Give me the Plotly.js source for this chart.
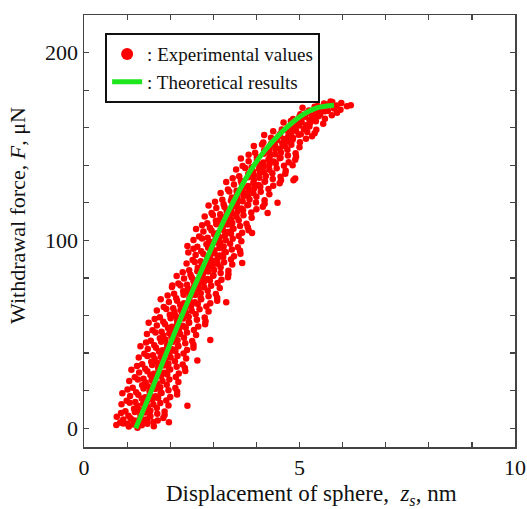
<!DOCTYPE html>
<html>
<head>
<meta charset="utf-8">
<script src="https://cdn.plot.ly/plotly-3.0.1.min.js"></script>
<style>html,body{margin:0;padding:0;background:#fff;}#chart{width:527px;height:509px;}</style>
</head>
<body>
<div id="chart"></div>
<script>
// Experimental values, read band by band (bottom to top) from the picture
const expX = [
  0.75,0.91,1.04,1.15,1.24,1.34,1.47,1.62,
  0.84,1.01,1.14,1.24,1.34,1.46,1.61,
  0.76,0.91,1.08,1.21,1.31,1.41,1.53,1.71,1.84,
  0.86,1.03,1.18,1.31,1.42,1.54,1.70,1.87,
  0.96,1.16,1.28,1.41,1.54,1.69,1.87,2.40,1.97,
  0.87,1.06,1.24,1.37,1.48,1.61,1.77,1.96,
  0.99,1.19,1.34,1.46,1.59,1.72,1.91,
  0.89,1.07,1.26,1.42,1.53,1.66,1.80,2.00,2.16,
  1.01,1.21,1.38,1.52,1.65,1.78,1.96,2.16,
  1.13,1.35,1.48,1.62,1.77,1.92,2.12,
  1.05,1.25,1.43,1.57,1.69,1.82,1.98,2.19,
  1.18,1.38,1.54,1.66,1.79,1.93,2.13,
  1.10,1.28,1.47,1.62,1.73,1.86,2.00,2.20,2.35,
  1.23,1.42,1.58,1.72,1.85,1.97,2.15,2.34,
  1.35,1.56,1.69,1.82,1.96,2.11,2.29,
  1.27,1.47,1.64,1.78,1.89,2.01,2.17,2.37,2.63,
  1.40,1.60,1.74,1.87,1.99,2.12,2.31,
  1.31,1.48,1.67,1.82,1.93,2.05,2.19,2.39,2.54,
  1.44,1.63,1.79,1.93,2.05,2.18,2.35,2.54,2.93,
  1.55,1.76,1.89,2.03,2.17,2.32,2.51,
  1.46,1.66,1.84,1.98,2.10,2.23,2.39,2.60,
  1.59,1.80,1.95,2.08,2.21,2.36,2.55,
  1.50,1.69,1.88,2.04,2.16,2.29,2.44,2.65,2.81,
  1.64,1.84,2.01,2.16,2.30,2.43,2.62,2.82,
  1.76,1.99,2.13,2.28,2.43,2.59,2.80,
  1.69,1.91,2.10,2.24,2.37,2.50,2.68,2.89,
  1.85,2.07,2.23,2.36,2.49,2.64,2.84,3.30,
  1.78,1.97,2.16,2.32,2.44,2.57,2.72,2.93,3.09,
  1.94,2.14,2.31,2.45,2.58,2.71,2.89,3.09,
  2.09,2.30,2.43,2.57,2.71,2.87,3.06,2.05,
  2.04,2.24,2.41,2.55,2.66,2.79,2.95,3.15,
  2.19,2.39,2.54,2.66,2.78,2.92,3.10,
  2.15,2.32,2.50,2.64,2.75,2.87,3.00,3.19,3.34,
  2.29,2.47,2.63,2.76,2.88,3.00,3.17,3.35,
  2.44,2.64,2.76,2.89,3.02,3.17,3.35,
  2.38,2.57,2.74,2.87,2.98,3.10,3.25,3.44,3.67,
  2.52,2.71,2.86,2.98,3.10,3.23,3.41,
  2.42,2.59,2.77,2.92,3.03,3.15,3.29,3.48,3.63,
  2.54,2.72,2.88,3.02,3.14,3.26,3.43,3.62,
  2.63,2.84,2.97,3.10,3.24,3.39,3.57,2.40,
  2.54,2.74,2.91,3.05,3.16,3.29,3.45,3.65,
  2.67,2.87,3.02,3.15,3.27,3.41,3.59,3.90,
  2.60,2.77,2.96,3.10,3.22,3.34,3.47,3.67,3.82,
  2.74,2.92,3.07,3.21,3.33,3.45,3.62,3.80,
  2.86,3.06,3.18,3.31,3.44,3.59,3.77,
  2.80,2.99,3.17,3.30,3.41,3.54,3.70,3.89,
  2.96,3.16,3.31,3.43,3.56,3.69,3.88,4.26,
  2.89,3.07,3.26,3.41,3.53,3.65,3.79,4.00,4.15,
  3.04,3.24,3.41,3.55,3.68,3.81,3.99,4.19,4.49,
  3.21,3.43,3.56,3.70,3.84,4.00,4.19,
  3.17,3.37,3.55,3.69,3.80,3.93,4.10,4.30,
  3.34,3.54,3.69,3.82,3.95,4.09,4.28,
  3.30,3.48,3.66,3.81,3.93,4.05,4.19,4.39,4.54,
  3.45,3.64,3.81,3.94,4.07,4.20,4.38,4.57,4.86,
  3.60,3.81,3.94,4.08,4.22,4.37,4.56,4.67,4.90,
  3.53,3.74,3.92,4.06,4.17,4.30,4.47,4.68,
  3.68,3.89,4.04,4.17,4.30,4.45,4.64,4.84,
  3.64,3.82,4.01,4.16,4.28,4.40,4.54,4.75,4.90,
  3.82,4.01,4.17,4.31,4.43,4.56,4.73,4.92,
  3.97,4.18,4.30,4.44,4.57,4.72,4.91,
  3.94,4.13,4.30,4.43,4.54,4.66,4.81,5.00,
  4.16,4.34,4.48,4.60,4.71,4.84,5.01,
  4.18,4.34,4.51,4.64,4.74,4.85,4.98,5.15,5.29,
  4.39,4.55,4.69,4.81,4.92,5.03,5.18,5.35,
  4.59,4.77,4.87,4.99,5.10,5.23,5.39,
  4.63,4.80,4.94,5.05,5.15,5.25,5.38,5.55,
  4.85,5.01,5.13,5.23,5.33,5.44,5.59,
  5.00,5.02,5.17,5.29,5.38,5.48,5.59,5.75,5.87,
  5.07,5.22,5.35,5.46,5.56,5.66,5.80,5.95,
  5.42,5.57,5.66,5.76,5.86,5.97,6.10,6.19,5.72
];
const expY = [
  1.7,2.5,0.9,2.0,0.3,1.6,2.4,1.1,
  3.1,2.4,4.3,2.7,3.8,4.6,3.3,
  6.1,4.7,5.3,4.0,5.6,4.5,6.2,4.1,5.4,
  8.1,6.7,8.6,7.2,8.4,6.5,7.7,7.0,
  9.1,10.4,9.8,11.2,9.3,10.7,8.9,12.0,3.2,
  12.7,13.5,11.9,13.0,11.3,12.6,13.4,12.1,
  14.6,13.9,15.8,14.2,15.3,16.1,14.8,
  18.6,17.2,17.8,16.5,18.1,17.0,18.7,16.6,17.9,
  20.6,19.2,21.1,19.7,20.9,19.0,20.2,19.5,
  21.6,22.9,22.3,23.7,21.8,23.2,21.4,
  25.2,26.0,24.4,25.5,23.8,25.1,25.9,24.6,
  27.1,26.4,28.3,26.7,27.8,28.6,27.3,
  31.1,29.7,30.3,29.0,30.6,29.5,31.2,29.1,30.4,
  33.1,31.7,33.6,32.2,33.4,31.5,32.7,32.0,
  34.1,35.4,34.8,36.2,34.3,35.7,33.9,
  37.7,38.5,36.9,38.0,36.3,37.6,38.4,37.1,36.0,
  39.6,38.9,40.8,39.2,40.3,41.1,39.8,
  43.6,42.2,42.8,41.5,43.1,42.0,43.7,41.6,42.9,
  45.6,44.2,46.1,44.7,45.9,44.0,45.2,44.5,47.0,
  46.6,47.9,47.3,48.7,46.8,48.2,46.4,
  50.2,51.0,49.4,50.5,48.8,50.1,50.9,49.6,
  52.1,51.4,53.3,51.7,52.8,53.6,52.3,
  56.1,54.7,55.3,54.0,55.6,54.5,56.2,54.1,55.4,
  58.1,56.7,58.6,57.2,58.4,56.5,57.7,57.0,
  59.1,60.4,59.8,61.2,59.3,60.7,58.9,
  62.7,63.5,61.9,63.0,61.3,62.6,63.4,62.1,
  64.6,63.9,65.8,64.2,65.3,66.1,64.8,67.0,
  68.6,67.2,67.8,66.5,68.1,67.0,68.7,66.6,67.9,
  70.6,69.2,71.1,69.7,70.9,69.0,70.2,69.5,
  71.6,72.9,72.3,73.7,71.8,73.2,71.4,76.0,
  75.2,76.0,74.4,75.5,73.8,75.1,75.9,74.6,
  77.1,76.4,78.3,76.7,77.8,78.6,77.3,
  81.1,79.7,80.3,79.0,80.6,79.5,81.2,79.1,80.4,
  83.1,81.7,83.6,82.2,83.4,81.5,82.7,82.0,
  84.1,85.4,84.8,86.2,84.3,85.7,83.9,
  87.7,88.5,86.9,88.0,86.3,87.6,88.4,87.1,88.0,
  89.6,88.9,90.8,89.2,90.3,91.1,89.8,
  93.6,92.2,92.8,91.5,93.1,92.0,93.7,91.6,92.9,
  95.6,94.2,96.1,94.7,95.9,94.0,95.2,94.5,
  96.6,97.9,97.3,98.7,96.8,98.2,96.4,97.0,
  100.2,101.0,99.4,100.5,98.8,100.1,100.9,99.6,
  102.1,101.4,103.3,101.7,102.8,103.6,102.3,104.0,
  106.1,104.7,105.3,104.0,105.6,104.5,106.2,104.1,105.4,
  108.1,106.7,108.6,107.2,108.4,106.5,107.7,107.0,
  109.1,110.4,109.8,111.2,109.3,110.7,108.9,
  112.7,113.5,111.9,113.0,111.3,112.6,113.4,112.1,
  114.6,113.9,115.8,114.2,115.3,116.1,114.8,114.6,
  118.6,117.2,117.8,116.5,118.1,117.0,118.7,116.6,117.9,
  120.6,119.2,121.1,119.7,120.9,119.0,120.2,119.5,120.0,
  121.6,122.9,122.3,123.7,121.8,123.2,121.4,
  125.2,126.0,124.4,125.5,123.8,125.1,125.9,124.6,
  127.1,126.4,128.3,126.7,127.8,128.6,127.3,
  131.1,129.7,130.3,129.0,130.6,129.5,131.2,129.1,130.4,
  133.1,131.7,133.6,132.2,133.4,131.5,132.7,132.0,132.0,
  134.1,135.4,134.8,136.2,134.3,135.7,133.9,135.5,133.0,
  137.7,138.5,136.9,138.0,136.3,137.6,138.4,137.1,
  139.6,138.9,140.8,139.2,140.3,141.1,139.8,140.0,
  143.6,142.2,142.8,141.5,143.1,142.0,143.7,141.6,142.9,
  145.6,144.2,146.1,144.7,145.9,144.0,145.2,144.5,
  146.6,147.9,147.3,148.7,146.8,148.2,146.4,
  150.2,151.0,149.4,150.5,148.8,150.1,150.9,149.6,
  152.1,151.4,153.3,151.7,152.8,153.6,152.3,
  156.1,154.7,155.3,154.0,155.6,154.5,156.2,154.1,155.4,
  158.1,156.7,158.6,157.2,158.4,156.5,157.7,157.0,
  159.1,160.4,159.8,161.2,159.3,160.7,158.9,
  162.7,163.5,161.9,163.0,161.3,162.6,163.4,162.1,
  164.6,163.9,165.8,164.2,165.3,166.1,164.8,
  166.0,167.2,167.8,166.5,168.1,167.0,168.7,166.6,167.9,
  170.6,169.2,171.1,169.7,170.9,169.0,170.2,169.5,
  171.6,172.9,172.3,173.7,171.8,173.2,171.4,172.0,174.0
];
// Theoretical results
const theoX = [1.20, 1.60, 2.00, 2.42, 2.86, 3.30, 3.86, 4.20, 4.56, 5.02, 5.40, 5.80];
const theoY = [0, 22, 45, 68, 91, 113, 137, 148, 157, 166, 170.5, 172];

const xMajor = [0, 5, 10];
const xMinor = [1, 2, 3, 4, 6, 7, 8, 9];
const yMajor = [0, 100, 200];
const yMinor = [20, 40, 60, 80, 120, 140, 160, 180, 220];

const xTitle = 'Displacement of sphere,  <i>z<sub>s</sub></i>, nm';
const yTitle = 'Withdrawal force, <i>F</i>, μN';

const serif = '"Liberation Serif", "Times New Roman", serif';
const axisColor = '#444';
const textColor = '#111';

const traces = [
  {
    x: expX, y: expY, type: 'scatter', mode: 'markers',
    name: ': Experimental values',
    marker: {color: '#ff0000', size: 6.5, line: {width: 0}}
  },
  {
    x: theoX, y: theoY, type: 'scatter', mode: 'lines',
    name: ': Theoretical results',
    line: {color: '#1ee61e', width: 5, shape: 'spline', smoothing: 1}
  }
];

const layout = {
  width: 527, height: 509,
  margin: {l: 84, r: 12, t: 15, b: 62},
  paper_bgcolor: '#fff', plot_bgcolor: '#fff',
  font: {family: serif, color: textColor, size: 20},
  showlegend: true,
  legend: {
    x: 0.049, y: 0.958, xanchor: 'left', yanchor: 'top',
    bordercolor: textColor, borderwidth: 2, bgcolor: '#fff',
    font: {family: serif, size: 19, color: textColor},
    tracegroupgap: 0, itemwidth: 30, itemsizing: 'constant'
  },
  xaxis: {
    range: [0, 10], tickvals: xMajor,
    ticks: 'inside', ticklen: 5, tickwidth: 1.2, tickcolor: axisColor,
    minor: {tickvals: xMinor, ticks: 'inside', ticklen: 5, tickwidth: 1.2, tickcolor: axisColor, showgrid: false},
    showline: true, linecolor: axisColor, linewidth: 1.5, mirror: 'ticks',
    showgrid: false, zeroline: false,
    tickfont: {family: serif, size: 22, color: textColor}
  },
  yaxis: {
    range: [-10, 220], tickvals: yMajor,
    ticks: 'inside', ticklen: 5, tickwidth: 1.2, tickcolor: axisColor,
    minor: {tickvals: yMinor, ticks: 'inside', ticklen: 5, tickwidth: 1.2, tickcolor: axisColor, showgrid: false},
    showline: true, linecolor: axisColor, linewidth: 1.5, mirror: 'ticks',
    showgrid: false, zeroline: false,
    tickfont: {family: serif, size: 22, color: textColor}
  },
  yaxis2: {
    overlaying: 'y', side: 'left', range: [-10, 220],
    tickvals: yMajor, ticks: 'outside', ticklen: 4, tickwidth: 1.2, tickcolor: axisColor,
    showticklabels: false, showline: false, showgrid: false, zeroline: false
  },
  annotations: [
    {text: xTitle, xref: 'paper', yref: 'paper', x: 0.527, y: -0.112,
     xanchor: 'center', yanchor: 'middle', showarrow: false,
     font: {family: serif, size: 23, color: textColor}},
    {text: yTitle, xref: 'paper', yref: 'paper', x: -0.153, y: 0.535,
     xanchor: 'center', yanchor: 'middle', showarrow: false, textangle: -90,
     font: {family: serif, size: 22, color: textColor}}
  ]
};

Plotly.newPlot('chart', traces, layout, {displayModeBar: false, staticPlot: true});
</script>
</body>
</html>
